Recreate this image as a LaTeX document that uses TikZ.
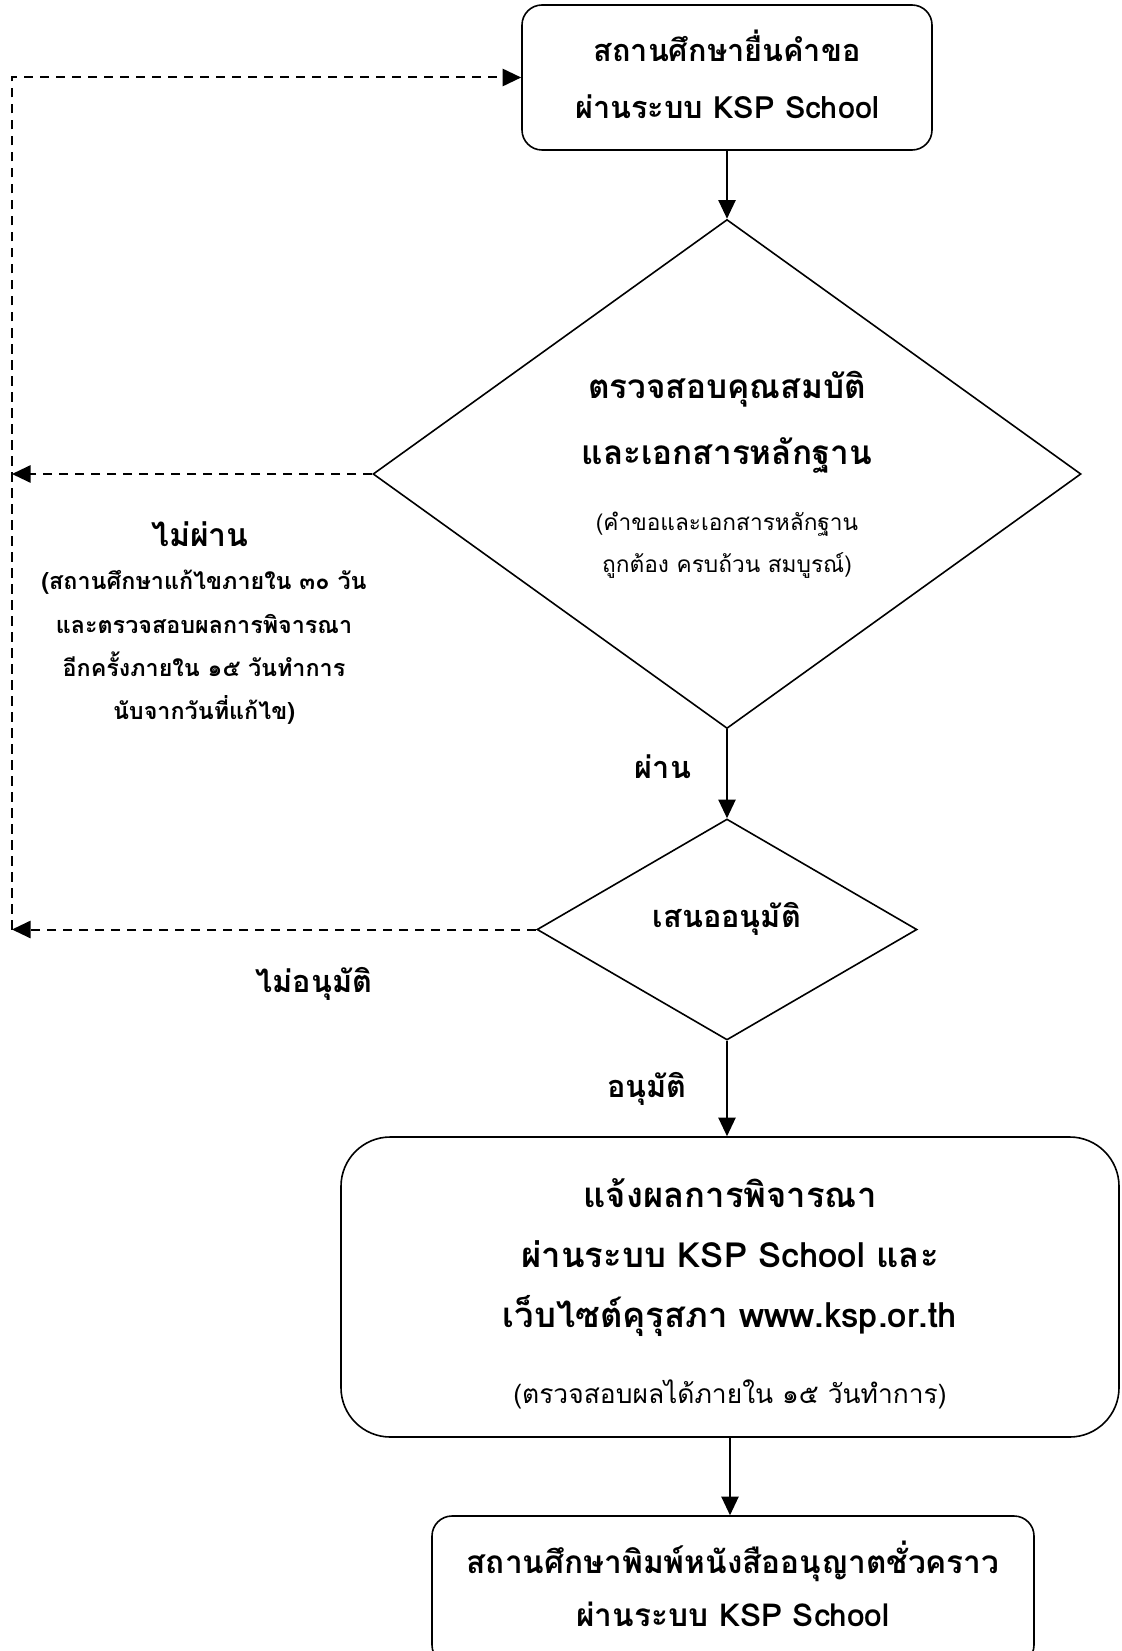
\documentclass[tikz,border=0pt]{standalone}
\usepackage{fontspec}
\setmainfont[Script=Thai]{Loma}
\usetikzlibrary{shapes.geometric,arrows.meta}
\begin{document}
\begin{tikzpicture}[x=0.75pt,y=-0.75pt,
  box/.style={draw, line width=1.2pt, rounded corners=15pt, inner sep=0pt},
  dec/.style={draw, diamond, line width=1.2pt, inner sep=0pt},
  flow/.style={line width=1.1pt, -{Triangle[length=14pt,width=13pt]}},
  back/.style={flow, line width=1.5pt, dash pattern=on 7pt off 5pt},
  big/.style={anchor=base, inner sep=0pt, font=\bfseries\fontsize{23}{28}\selectfont},
  mid/.style={anchor=base, inner sep=0pt, font=\bfseries\fontsize{17.5}{21}\selectfont},
  small/.style={anchor=base, inner sep=0pt, font=\fontsize{17}{20}\selectfont}
]
\useasboundingbox (0,0) rectangle (1121,1651);

% shapes
\node[box, minimum width=307.5pt, minimum height=108.75pt] (b1) at (727,77.5) {};
\node[dec, minimum width=531pt, minimum height=381.75pt] (d1) at (727,474) {};
\node[dec, minimum width=285pt, minimum height=165.75pt] (d2) at (727,929.5) {};
\node[box, rounded corners=37pt, minimum width=583.5pt, minimum height=225pt] (b3) at (730,1287) {};
\node[box, minimum width=451.5pt, minimum height=111.75pt] (b4) at (733,1590.5) {};
\coordinate (L) at (12,474);

% texts in shapes
\node[big] (t1a) at (727,62) {สถานศึกษายื่นคำขอ};
\node[big] (t1b) at (727,119) {ผ่านระบบ KSP School};
\node[big, font=\bfseries\fontsize{25}{30}\selectfont] (t2a) at (727,398) {ตรวจสอบคุณสมบัติ};
\node[big, font=\bfseries\fontsize{25}{30}\selectfont] (t2b) at (727,464) {และเอกสารหลักฐาน};
\node[small] (t2c) at (727,530) {(คำขอและเอกสารหลักฐาน};
\node[small] (t2d) at (727,572) {ถูกต้อง ครบถ้วน สมบูรณ์)};
\node[big] (t3) at (727,927) {เสนออนุมัติ};
\node[big, font=\bfseries\fontsize{26}{30}\selectfont] (t4a) at (730,1207) {แจ้งผลการพิจารณา};
\node[big, font=\bfseries\fontsize{26}{30}\selectfont] (t4b) at (730,1267) {ผ่านระบบ KSP School และ};
\node[big, font=\bfseries\fontsize{26}{30}\selectfont] (t4c) at (730,1327) {เว็บไซต์คุรุสภา www.ksp.or.th};
\node[small, font=\fontsize{19.8}{24}\selectfont] (t4d) at (730,1403) {(ตรวจสอบผลได้ภายใน ๑๕ วันทำการ)};
\node[big, font=\bfseries\fontsize{23.7}{28}\selectfont] (t5a) at (733,1573) {สถานศึกษาพิมพ์หนังสืออนุญาตชั่วคราว};
\node[big, font=\bfseries\fontsize{23.7}{28}\selectfont] (t5b) at (733,1626) {ผ่านระบบ KSP School};

% branch labels
\node[big] (lp) at (663,778) {ผ่าน};
\node[big] (la) at (647,1097) {อนุมัติ};
\node[big] (lna) at (314,992) {ไม่อนุมัติ};
\node[big, font=\bfseries\fontsize{24}{28}\selectfont] (lnp) at (200,546) {ไม่ผ่าน};
\node[mid] (lnp1) at (204,589) {(สถานศึกษาแก้ไขภายใน ๓๐ วัน};
\node[mid] (lnp2) at (204,633) {และตรวจสอบผลการพิจารณา};
\node[mid] (lnp3) at (204,676) {อีกครั้งภายใน ๑๕ วันทำการ};
\node[mid] (lnp4) at (204,719) {นับจากวันที่แก้ไข)};

% connectors
\draw[flow] (b1.south) -- (b1.south |- d1.north);
\draw[flow] (d1.south) -- (d1.south |- d2.north);
\draw[flow] (d2.south) -- (d2.south |- b3.north);
\draw[flow] (b3.south) -- (b3.south |- b4.north);
\draw[back] (d1.west) -- (d1.west -| L);
\draw[back] (d2.west) -- (d2.west -| L);
\draw[back] (d2.west -| L) -- (L |- b1.west) -- (b1.west);
\end{tikzpicture}
\end{document}
